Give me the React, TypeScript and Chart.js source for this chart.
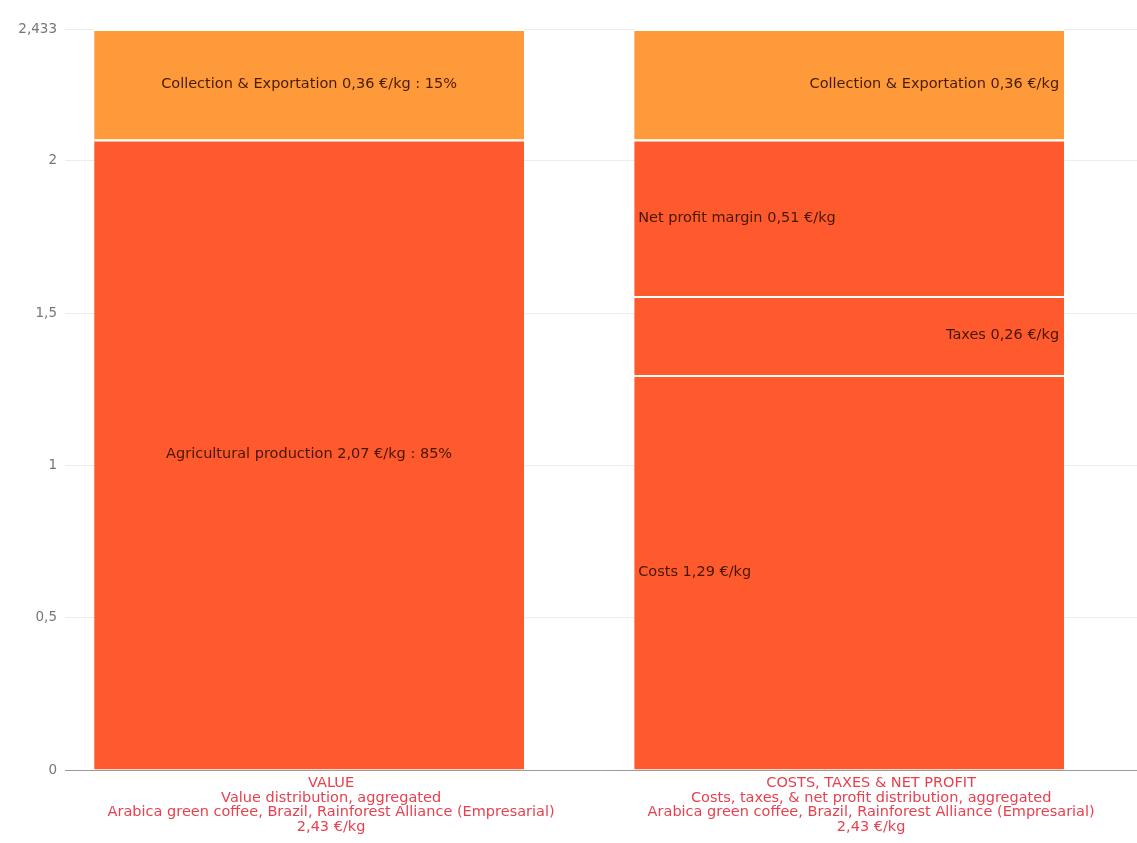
import React, { useEffect, useRef } from "react";
import { Chart, registerables } from "chart.js";

Chart.register(...registerables);

// ---- data ----
const categories: string[][] = [
  [
    "VALUE",
    "Value distribution, aggregated",
    "Arabica green coffee, Brazil, Rainforest Alliance (Empresarial)",
    "2,43 €/kg",
  ],
  [
    "COSTS, TAXES & NET PROFIT",
    "Costs, taxes, & net profit distribution, aggregated",
    "Arabica green coffee, Brazil, Rainforest Alliance (Empresarial)",
    "2,43 €/kg",
  ],
];

const agriculturalProduction = [2.07, null];
const costs = [null, 1.297];
const taxes = [null, 0.259];
const netProfit = [null, 0.514];
const collectionExportation = [0.363, 0.363];

const agriculturalLabels = ["Agricultural production 2,07 €/kg : 85%", ""];
const costsLabels = ["", "Costs 1,29 €/kg"];
const taxesLabels = ["", "Taxes 0,26 €/kg"];
const netProfitLabels = ["", "Net profit margin 0,51 €/kg"];
const collectionLabels = ["Collection & Exportation 0,36 €/kg : 15%", "Collection & Exportation 0,36 €/kg"];

const yTicks = [0, 0.5, 1, 1.5, 2, 2.433];
const yMax = 2.433;

// ---- styles ----
const RED = "#ff5a2d";
const ORANGE = "#ff9a3a";
const FONT = "'DejaVu Sans', 'Noto Sans', sans-serif";

const toPoints = (arr: (number | null)[]) =>
  arr.map((v, i) => ({ x: i, y: v })).filter((p) => p.y !== null);

const segmentLabelPlugin = {
  id: "segmentLabels",
  afterDatasetsDraw(chart: any) {
    const ctx = chart.ctx;
    ctx.save();
    ctx.font = `14.5px ${FONT}`;
    ctx.fillStyle = "rgba(50,14,0,0.9)";
    ctx.textBaseline = "middle";
    chart.data.datasets.forEach((ds: any, di: number) => {
      const meta = chart.getDatasetMeta(di);
      meta.data.forEach((bar: any, j: number) => {
        const idx = ds.data[j].x;
        const text = ds.segLabels[idx];
        if (!text) return;
        const align = ds.segAlign[idx];
        const props = bar.getProps(["x", "y", "base", "width"], true);
        const cy = (props.y + props.base) / 2;
        const left = props.x - props.width / 2;
        const right = props.x + props.width / 2;
        if (align === "left") {
          ctx.textAlign = "left";
          ctx.fillText(text, left + 4, cy);
        } else if (align === "right") {
          ctx.textAlign = "right";
          ctx.fillText(text, right - 5, cy);
        } else {
          ctx.textAlign = "center";
          ctx.fillText(text, props.x, cy);
        }
      });
    });
    ctx.restore();
  },
};

export default function App() {
  const ref = useRef<HTMLCanvasElement | null>(null);

  useEffect(() => {
    document.body.style.margin = "0";
    if (!ref.current) return;
    const border = { top: 2, left: 0, right: 0, bottom: 0 };
    const common = {
      borderColor: "#ffffff",
      borderWidth: border,
      borderSkipped: false,
      barPercentage: 1,
      categoryPercentage: 0.796,
    };
    const chart = new Chart(ref.current, {
      type: "bar",
      data: {
        datasets: [
          {
            label: "Agricultural production",
            data: toPoints(agriculturalProduction),
            backgroundColor: RED,
            segLabels: agriculturalLabels,
            segAlign: ["center", "center"],
            ...common,
          },
          {
            label: "Costs",
            data: toPoints(costs),
            backgroundColor: RED,
            segLabels: costsLabels,
            segAlign: ["left", "left"],
            ...common,
          },
          {
            label: "Taxes",
            data: toPoints(taxes),
            backgroundColor: RED,
            segLabels: taxesLabels,
            segAlign: ["right", "right"],
            ...common,
          },
          {
            label: "Net profit margin",
            data: toPoints(netProfit),
            backgroundColor: RED,
            segLabels: netProfitLabels,
            segAlign: ["left", "left"],
            ...common,
          },
          {
            label: "Collection & Exportation",
            data: toPoints(collectionExportation),
            backgroundColor: ORANGE,
            segLabels: collectionLabels,
            segAlign: ["center", "right"],
            ...common,
          },
        ] as any,
      },
      options: {
        animation: false,
        responsive: false,
        layout: { padding: { top: 29, right: 0, left: 0, bottom: 0 } },
        plugins: {
          legend: { display: false },
          tooltip: { enabled: false },
        },
        scales: {
          x: {
            type: "linear",
            stacked: true,
            offset: false,
            min: -0.452,
            max: 1.533,
            grid: { display: false, drawTicks: false },
            border: { display: true, color: "#9a9a9a", width: 1 },
            afterBuildTicks: (scale: any) => {
              scale.ticks = categories.map((_, i) => ({ value: i }));
            },
            afterFit: (scale: any) => {
              scale.height = 73;
            },
            ticks: {
              autoSkip: false,
              maxRotation: 0,
              padding: 6,
              labelOffset: 22,
              color: "#e8404f",
              font: { family: FONT, size: 14.5, lineHeight: 1.0 },
              callback: (v: any) => categories[Math.round(Number(v))] ?? "",
            },
          },
          y: {
            stacked: true,
            min: 0,
            max: yMax,
            afterBuildTicks: (scale: any) => {
              scale.ticks = yTicks.map((v) => ({ value: v }));
            },
            afterFit: (scale: any) => {
              scale.width = 65;
            },
            grid: { color: "#ececec", drawTicks: false },
            border: { display: false },
            ticks: {
              padding: 8,
              color: "#777777",
              font: { family: FONT, size: 13.5 },
              callback: (v: any) => String(v).replace(".", ","),
            },
          },
        },
      } as any,
      plugins: [segmentLabelPlugin],
    });
    return () => chart.destroy();
  }, []);

  return (
    <div style={{ width: 1137, height: 843 }}>
      <canvas ref={ref} width={1137} height={843} style={{ display: "block" }} />
    </div>
  );
}
